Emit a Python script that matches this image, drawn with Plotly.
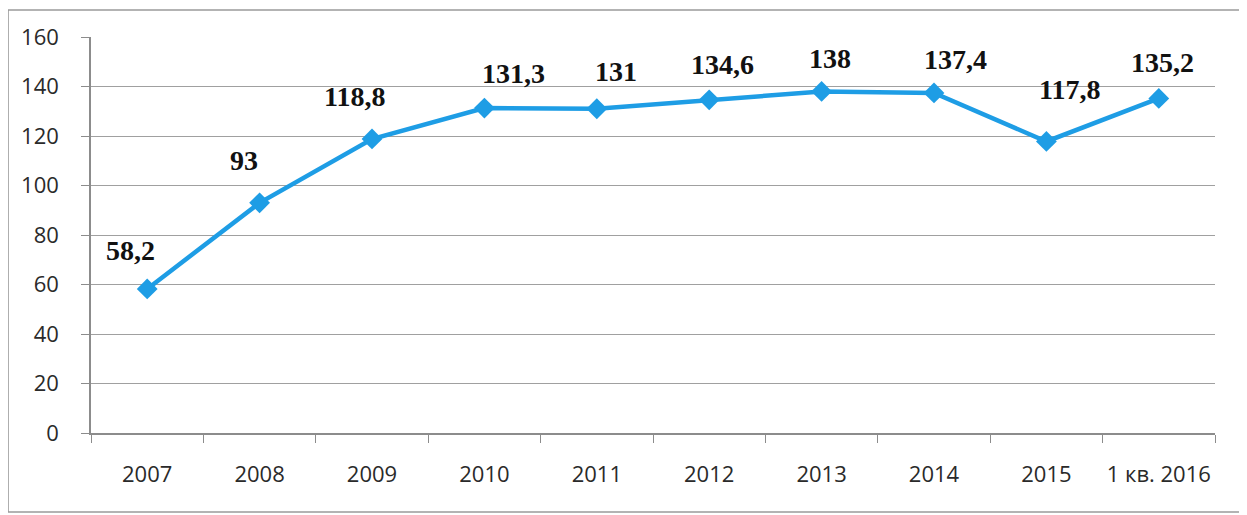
import plotly.graph_objects as go

categories = ["2007", "2008", "2009", "2010", "2011", "2012", "2013", "2014", "2015", "1 кв. 2016"]
values = [58.2, 93, 118.8, 131.3, 131, 134.6, 138, 137.4, 117.8, 135.2]
labels = ["58,2", "93", "118,8", "131,3", "131", "134,6", "138", "137,4", "117,8", "135,2"]
label_dx = [-17, -16, -18, 29, 19, 13, 8, 21, 23, 4]
label_dy = [38, 42, 42, 35, 37, 35, 33, 33, 52, 36]

fig = go.Figure()
fig.add_trace(go.Scatter(
    x=categories, y=values, mode="lines+markers",
    line=dict(color="#1E9DE5", width=4.5),
    marker=dict(symbol="diamond", size=16, color="#1E9DE5"),
    hoverinfo="skip", showlegend=False,
))

for i, (v, t, dx, dy) in enumerate(zip(values, labels, label_dx, label_dy)):
    fig.add_annotation(x=i, y=v, text="<b>" + t + "</b>", showarrow=False,
                       xshift=dx, yshift=dy,
                       font=dict(family="Liberation Serif", size=28, color="#111111"))

fig.add_shape(type="rect", xref="paper", yref="paper",
              x0=-0.0738, x1=1.0222, y0=-0.1995, y1=1.068,
              line=dict(color="#9A9A9A", width=1.5))

fig.update_layout(
    width=1247, height=515,
    margin=dict(l=83, r=40, t=29, b=90, autoexpand=False),
    paper_bgcolor="white", plot_bgcolor="white",
    font=dict(family="Open Sans", size=22, color="#2A2A2A"),
    xaxis=dict(
        type="category", tickson="boundaries", ticks="outside", ticklen=8,
        tickcolor="#8C8C8C", showgrid=False, showline=True, linecolor="#8C8C8C",
        linewidth=1.5, ticklabelstandoff=21, tickfont=dict(size=22), tickangle=0,
        range=[-0.5, 9.5], zeroline=False, automargin=False,
    ),
    yaxis=dict(
        range=[0, 160], dtick=20, ticks="outside", ticklen=8, tickcolor="#8C8C8C",
        showgrid=True, gridcolor="#A0A0A0", gridwidth=1.2, showline=True,
        linecolor="#8C8C8C", linewidth=1.5, zeroline=False,
        ticklabelstandoff=18, tickfont=dict(size=22), automargin=False,
    ),
)

fig.write_html("out.html")
